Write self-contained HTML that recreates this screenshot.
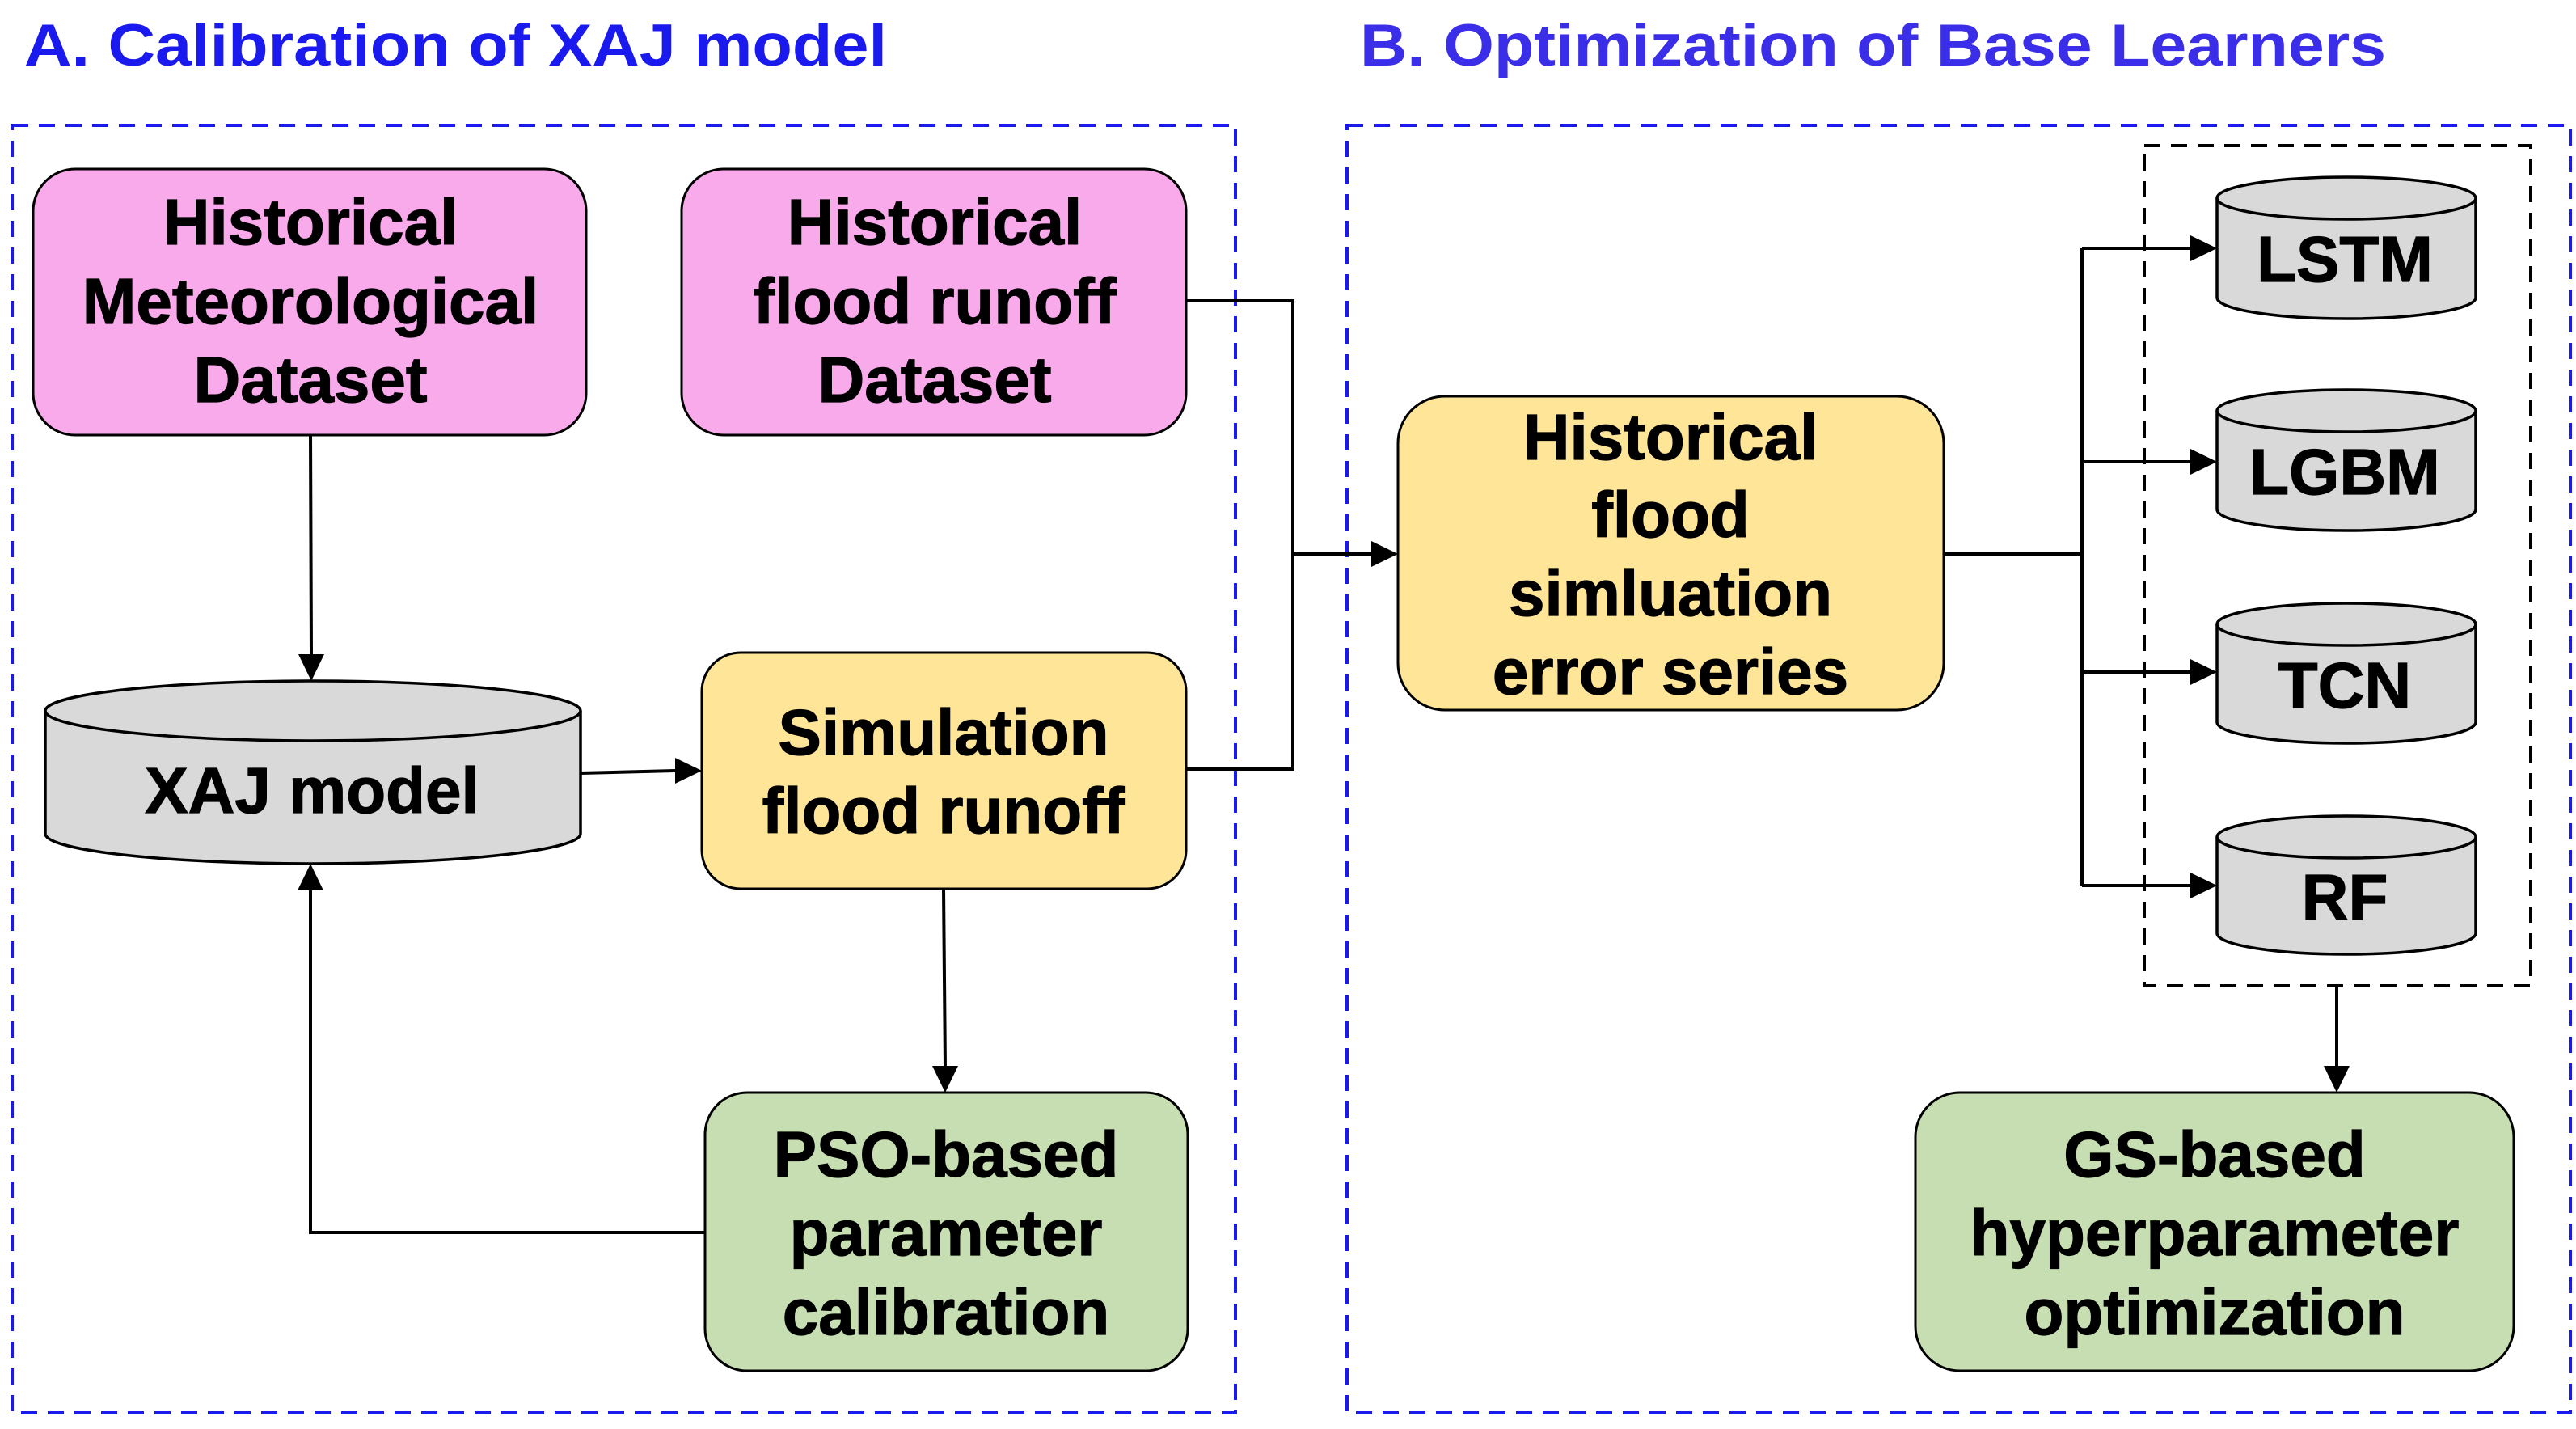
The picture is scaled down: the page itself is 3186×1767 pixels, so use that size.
<!DOCTYPE html>
<html><head><meta charset="utf-8"><style>
html,body{margin:0;padding:0;background:#fff;}
svg{display:block;}
text{font-family:"Liberation Sans",Arial,sans-serif;font-weight:bold;}
</style></head><body>
<svg width="3186" height="1767" viewBox="0 0 3186 1767" xmlns="http://www.w3.org/2000/svg">
<rect width="3186" height="1767" fill="#fff"/>
<!-- titles -->
<text x="30" y="81" font-size="73" fill="#1a1aee" textLength="1067" lengthAdjust="spacingAndGlyphs">A. Calibration of XAJ model</text>
<text x="1682" y="81" font-size="73" fill="#3a2ee8" textLength="1269" lengthAdjust="spacingAndGlyphs">B. Optimization of Base Learners</text>
<!-- outer dashed boxes -->
<rect x="15" y="155" width="1513" height="1592" fill="none" stroke="#1a1aee" stroke-width="4" stroke-dasharray="20 13"/>
<rect x="1666" y="155" width="1513" height="1592" fill="none" stroke="#1a1aee" stroke-width="4" stroke-dasharray="20 13"/>
<!-- inner dashed -->
<rect x="2652" y="180" width="478" height="1039" fill="none" stroke="#000" stroke-width="4" stroke-dasharray="20 13"/>

<g stroke="#000" stroke-width="3">
<rect x="41" y="209" width="684" height="329" rx="52" fill="#f9aaea"/>
<rect x="843" y="209" width="624" height="329" rx="52" fill="#f9aaea"/>
<rect x="868" y="807" width="599" height="292" rx="48" fill="#fee598"/>
<rect x="872" y="1351" width="597" height="344" rx="52" fill="#c6deb1"/>
<rect x="1729" y="490" width="675" height="388" rx="58" fill="#fee598"/>
<rect x="2369" y="1351" width="740" height="344" rx="55" fill="#c6deb1"/>
</g>

<!-- cylinders -->
<g stroke="#000" stroke-width="3.5" fill="#d9d9d9">
<path d="M56,879 A331,37 0 0 1 718,879 L718,1031 A331,37 0 0 1 56,1031 Z"/>
<path d="M56,879 A331,37 0 0 0 718,879" fill="none"/>
<path d="M2742,245 A160,26 0 0 1 3062,245 L3062,368 A160,26 0 0 1 2742,368 Z"/>
<path d="M2742,245 A160,26 0 0 0 3062,245" fill="none"/>
<path d="M2742,508 A160,26 0 0 1 3062,508 L3062,630 A160,26 0 0 1 2742,630 Z"/>
<path d="M2742,508 A160,26 0 0 0 3062,508" fill="none"/>
<path d="M2742,772 A160,26 0 0 1 3062,772 L3062,893 A160,26 0 0 1 2742,893 Z"/>
<path d="M2742,772 A160,26 0 0 0 3062,772" fill="none"/>
<path d="M2742,1035 A160,26 0 0 1 3062,1035 L3062,1154 A160,26 0 0 1 2742,1154 Z"/>
<path d="M2742,1035 A160,26 0 0 0 3062,1035" fill="none"/>
</g>

<!-- connectors -->
<g stroke="#000" stroke-width="4" fill="none">
<polyline points="384,538 385,810"/>
<polyline points="718,956 835,953"/>
<polyline points="1467,372 1599,372 1599,951 1467,951"/>
<polyline points="1599,685 1697,685"/>
<polyline points="1167,1099 1169,1320"/>
<polyline points="872,1524 384,1524 384,1100"/>
<polyline points="2404,685 2575,685"/>
<polyline points="2575,307 2575,1095"/>
<polyline points="2575,307 2710,307"/>
<polyline points="2575,571 2710,571"/>
<polyline points="2575,831 2710,831"/>
<polyline points="2575,1095 2710,1095"/>
<polyline points="2890,1219 2890,1320"/>
</g>
<g fill="#000">
<polygon points="369,809 401,809 385,842"/>
<polygon points="835,937 835,969 868,953"/>
<polygon points="1696,669 1696,701 1729,685"/>
<polygon points="1153,1318 1185,1318 1169,1351"/>
<polygon points="368,1101 400,1101 384,1068"/>
<polygon points="2709,291 2709,323 2742,307"/>
<polygon points="2709,555 2709,587 2742,571"/>
<polygon points="2709,815 2709,847 2742,831"/>
<polygon points="2709,1079 2709,1111 2742,1095"/>
<polygon points="2874,1318 2906,1318 2890,1351"/>
</g>

<g font-size="80" fill="#000" stroke="#000" stroke-width="1.2" text-anchor="middle">
<text x="384" y="302">Historical</text>
<text x="384" y="400">Meteorological</text>
<text x="384" y="497">Dataset</text>
<text x="1156" y="302">Historical</text>
<text x="1156" y="400">flood runoff</text>
<text x="1156" y="497">Dataset</text>
<text x="386" y="1005">XAJ model</text>
<text x="1167" y="933">Simulation</text>
<text x="1167" y="1030">flood runoff</text>
<text x="1170" y="1455">PSO-based</text>
<text x="1170" y="1552">parameter</text>
<text x="1170" y="1650">calibration</text>
<text x="2066" y="568">Historical</text>
<text x="2066" y="664">flood</text>
<text x="2066" y="761">simluation</text>
<text x="2066" y="858">error series</text>
<text x="2900" y="348">LSTM</text>
<text x="2900" y="611">LGBM</text>
<text x="2900" y="875">TCN</text>
<text x="2900" y="1137">RF</text>
<text x="2739" y="1455">GS-based</text>
<text x="2739" y="1552">hyperparameter</text>
<text x="2739" y="1650">optimization</text>
</g>
</svg>
</body></html>
